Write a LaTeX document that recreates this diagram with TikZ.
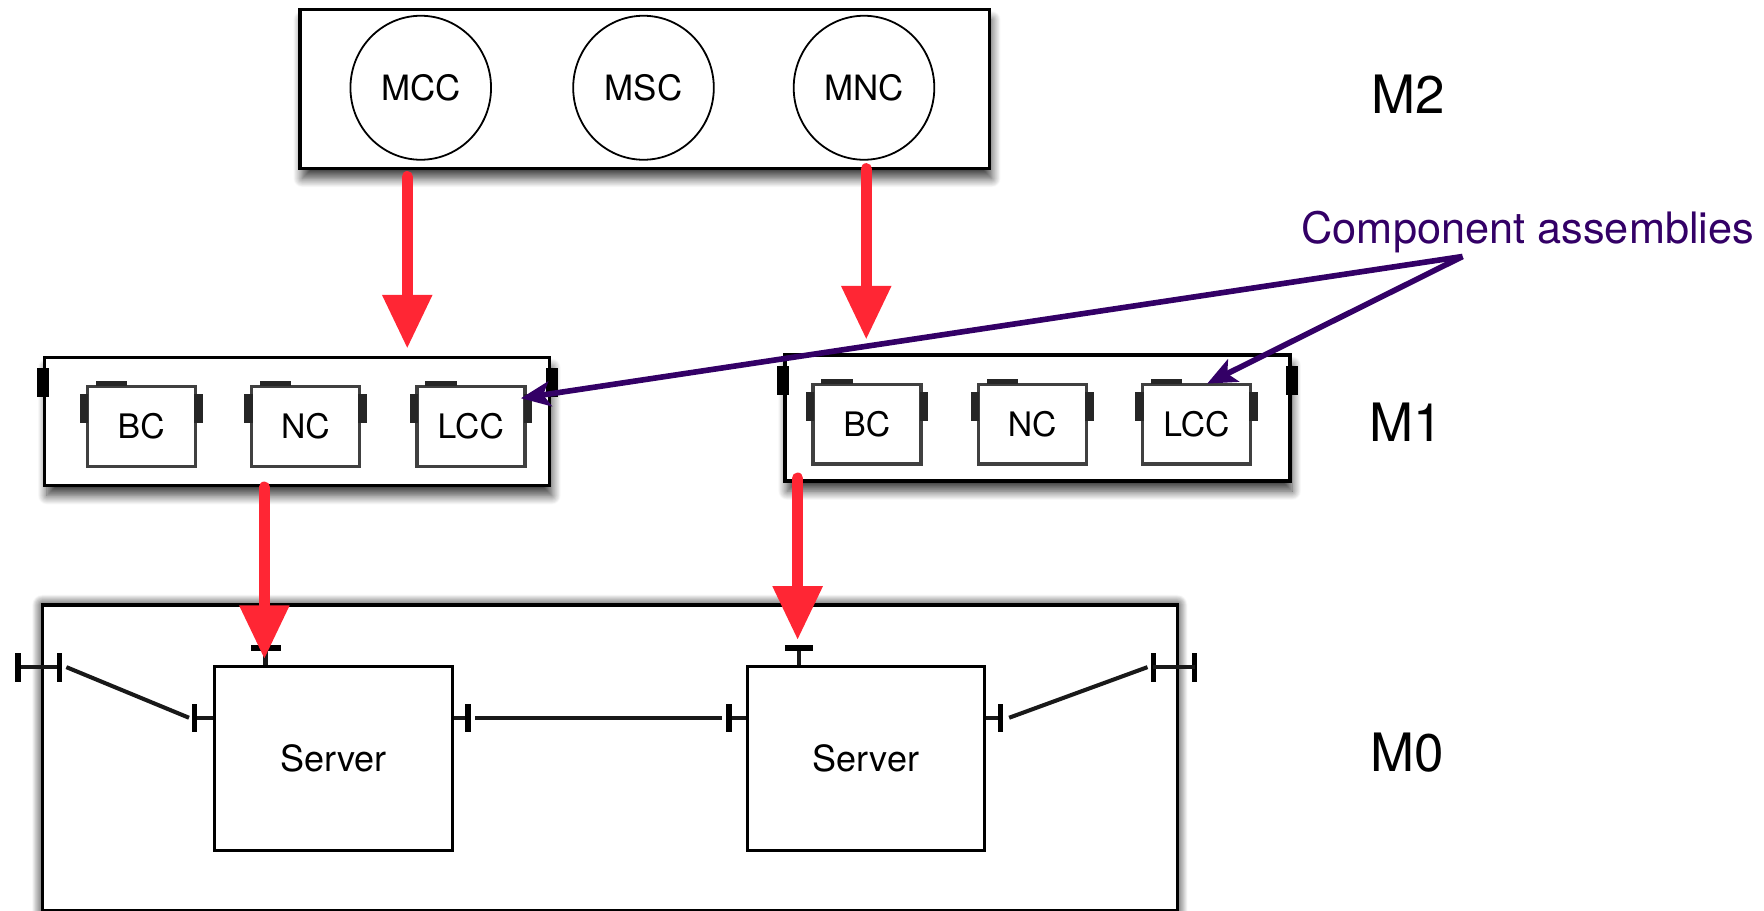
\documentclass[tikz,border=0pt]{standalone}
\usepackage{fontspec}
\setmainfont{TeX Gyre Heros}
\usetikzlibrary{arrows.meta,shapes.geometric,shadows.blur}

\definecolor{arrowred}{RGB}{255,38,52}
\definecolor{notepurple}{RGB}{51,0,102}

\tikzset{
  layerbox/.style={draw=black, line width=3.2pt, fill=white, inner sep=0pt,
    anchor=north west,
    blur shadow={shadow xshift=2pt, shadow yshift=-9pt,
                 shadow blur steps=14, shadow blur radius=8pt, shadow opacity=75}},
  metaclass/.style={ellipse, draw=black, line width=1.6pt, fill=white,
    minimum width=125pt, minimum height=128pt, inner sep=0pt,
    font=\fontsize{31}{31}\selectfont},
  compbox/.style={draw=black!75, line width=3pt, fill=white, inner sep=0pt,
    anchor=north west, minimum width=96pt, minimum height=71pt,
    font=\fontsize{30}{30}\selectfont, text depth=-7pt},
  serverbox/.style={draw=black, line width=2.6pt, fill=white, inner sep=0pt,
    anchor=north west, minimum height=164pt,
    font=\fontsize{32}{32}\selectfont},
  levellabel/.style={font=\fontsize{47}{47}\selectfont, inner sep=0pt},
  refine/.style={draw=arrowred, line width=10pt, line cap=round,
    -{Triangle[length=48pt, width=42pt]}},
  note/.style={draw=notepurple, line width=5pt,
    -{Stealth[length=26pt, width=22pt, inset=6pt]}},
  portbar/.style={fill=black!85},
  wire/.style={draw=black!90, line width=3.6pt},
}

% small port marks on a component box: one on top, one on each side
\newcommand\compports[1]{%
  \fill[portbar] ([xshift=9pt,yshift=-1.5pt]#1.north west) rectangle ([xshift=37pt,yshift=3.5pt]#1.north west);
  \fill[portbar] ([xshift=-5pt,yshift=-8pt]#1.north west) rectangle ([xshift=2.5pt,yshift=-34pt]#1.north west);
  \fill[portbar] ([xshift=-2.5pt,yshift=-8pt]#1.north east) rectangle ([xshift=5pt,yshift=-34pt]#1.north east);
}
% delegation port on the side of an assembly box
\newcommand\edgeport[2]{%
  \fill[black] ([xshift=-5pt,yshift=-11pt]#1.#2) rectangle ([xshift=5.5pt,yshift=-37pt]#1.#2);
}

\begin{document}
\begin{tikzpicture}[x=1pt, y=-1pt]
\useasboundingbox (0,0) rectangle (1568,809);

% ---------------- level M2 ----------------
\node[layerbox, minimum width=613pt, minimum height=141pt] (m2box) at (265,7) {};
\node[metaclass] (mcc) at (374,78) {MCC};
\node[metaclass] (msc) at (572,78) {MSC};
\node[metaclass] (mnc) at (768,78) {MNC};

% ---------------- level M1 ----------------
\node[layerbox, minimum width=449pt, minimum height=114pt] (m1left) at (38,316) {};
\node[layerbox, minimum width=449pt, minimum height=112pt] (m1right) at (696,314) {};
\edgeport{m1left}{north west}
\edgeport{m1left}{north east}
\edgeport{m1right}{north west}
\edgeport{m1right}{north east}

\node[compbox] (bcL)  at (76,342)  {BC};
\node[compbox] (ncL)  at (222,342) {NC};
\node[compbox] (lccL) at (369,342) {LCC};
\node[compbox] (bcR)  at (721,340) {BC};
\node[compbox] (ncR)  at (868,340) {NC};
\node[compbox] (lccR) at (1014,340) {LCC};
\foreach \c in {bcL,ncL,lccL,bcR,ncR,lccR} {\compports{\c}}

% ---------------- level M0 ----------------
\node[layerbox, minimum width=1009pt, minimum height=272pt,
      blur shadow={shadow xshift=0pt, shadow yshift=0pt, shadow blur radius=9pt,
                   shadow blur steps=14, shadow opacity=60}] (m0box) at (36,536) {};
\node[serverbox, minimum width=212pt] (srvA) at (189,591) {Server};
\node[serverbox, minimum width=211pt] (srvB) at (663,591) {Server};

% port positions
\coordinate (pLout) at (16,593);
\coordinate (pLin)  at (53,593);
\coordinate (pRin)  at (1025,593);
\coordinate (pRout) at (1062,593);
\coordinate (aL) at (173,638);
\coordinate (aR) at (416,638);
\coordinate (bL) at (648,638);
\coordinate (bR) at (889,638);
\coordinate (aT) at (236,576);
\coordinate (bT) at (710,576);

% outer ports of M0
\draw[wire] (pLout) -- (pLin);
\foreach \p in {pLout,pLin,pRin,pRout}
  \fill[black] ([xshift=-2.3pt,yshift=13pt]\p) rectangle ([xshift=2.3pt,yshift=-13pt]\p);
\draw[wire] (pRin) -- (pRout);

% server side ports
\draw[wire] (aL) -- (srvA.west |- aL);
\draw[wire] (srvA.east |- aR) -- (aR);
\draw[wire] (bL) -- (srvB.west |- bL);
\draw[wire] (srvB.east |- bR) -- (bR);
\foreach \p in {aL,aR,bL,bR}
  \fill[black] ([xshift=-2.3pt,yshift=12.5pt]\p) rectangle ([xshift=2.3pt,yshift=-12.5pt]\p);

% top ports of the servers
\draw[wire] (aT) -- (srvA.north -| aT);
\draw[wire] (bT) -- (srvB.north -| bT);
\fill[black] ([xshift=-13pt,yshift=2.3pt]aT) rectangle ([xshift=14pt,yshift=-2.3pt]aT);
\fill[black] ([xshift=-12pt,yshift=2.3pt]bT) rectangle ([xshift=13pt,yshift=-2.3pt]bT);

% connections between ports
\draw[wire] ([xshift=6pt]pLin) -- ([xshift=-5pt]aL);
\draw[wire] ([xshift=6pt]aR) -- ([xshift=-6pt]bL);
\draw[wire] ([xshift=8pt]bR) -- ([xshift=-5pt]pRin);

% ---------------- refinement arrows ----------------
\coordinate (r1s) at (362,157);
\coordinate (r1e) at (362,310);
\coordinate (r2s) at (770,150);
\coordinate (r2e) at (770,302);
\coordinate (r3s) at (235,433);
\coordinate (r3e) at (235,586);
\coordinate (r4s) at (709,425);
\coordinate (r4e) at (709,569);
\draw[refine] (r1s) -- (r1e);
\draw[refine] (r2s) -- (r2e);
\draw[refine] (r3s) -- (r3e);
\draw[refine] (r4s) -- (r4e);

% ---------------- level labels ----------------
\node[levellabel] (lm2) at (1252,84)  {M2};
\node[levellabel] (lm1) at (1250,375) {M1};
\node[levellabel] (lm0) at (1251,669) {M0};

% ---------------- annotation ----------------
\node[text=notepurple, font=\fontsize{38.5}{38.5}\selectfont, anchor=base, inner sep=0pt]
  (ca) at (1358,216) {Component assemblies};
\coordinate (caroot) at (1300,228);
\coordinate (tipL) at (463,354);
\coordinate (tipR) at (1073,341);
\draw[note] (caroot) -- (tipL);
\draw[note] (caroot) -- (tipR);

\end{tikzpicture}
\end{document}
